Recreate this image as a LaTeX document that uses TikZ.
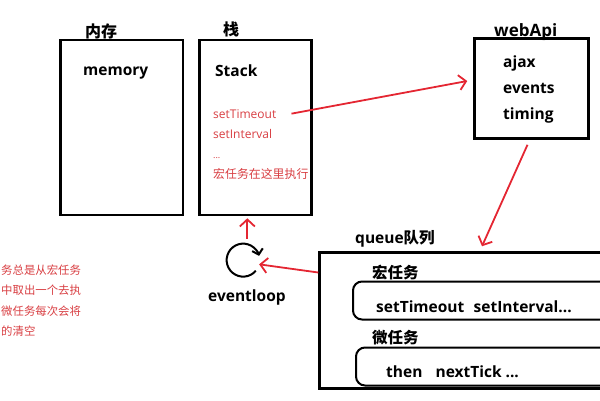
\documentclass[tikz,border=0pt]{standalone}
\usepackage{fontspec}
\setmainfont{Open Sans}
\newfontfamily\cjk{Noto Sans CJK SC}
\usetikzlibrary{arrows.meta}
\definecolor{pen}{RGB}{228,38,50}
\definecolor{ink}{RGB}{216,62,66}

\begin{document}
\begin{tikzpicture}[x=1pt, y=-1pt]
\tikzstyle{every node}=[inner sep=0pt];
\tikzstyle{box}=[draw, line width=2.5pt];
\tikzstyle{lane}=[draw, line width=2pt, rounded corners=9pt];
\tikzstyle{head}=[font=\bfseries\fontsize{15.5}{18}\selectfont, anchor=base west];
\tikzstyle{zh}=[font=\cjk\bfseries\fontsize{15.5}{18}\selectfont, anchor=base west];
\tikzstyle{note}=[text=ink, font=\fontsize{12}{14}\selectfont, anchor=base west];
\tikzstyle{link}=[draw=pen, line width=1.8pt, -{Straight Barb[length=7pt,width=15pt]}];
\clip (0,0) rectangle (600,400);

% boxes
\node[box, minimum width=122.5pt, minimum height=175pt] (mem) at (121.75,127.5) {};
\node[box, minimum width=112pt, minimum height=175pt] (stack) at (255.5,127.5) {};
\node[box, minimum width=114pt, minimum height=100pt] (webapi) at (531.5,88.5) {};
\node[box, minimum width=321pt, minimum height=136pt] (queue) at (480,320.5) {};
\node[lane, minimum width=300pt, minimum height=38pt] (macro) at (503,300.5) {};
\node[lane, minimum width=300pt, minimum height=38pt] (micro) at (506,366.5) {};
\node[circle, minimum size=33pt] (loop) at (243,260) {};

% titles
\node[zh, font=\cjk\bfseries\fontsize{16}{18}\selectfont] (memtitle) at (85,37) {内存};
\node[zh, font=\cjk\bfseries\fontsize{16}{18}\selectfont] (stacktitle) at (223,35) {栈};
\node[head, font=\bfseries\fontsize{17}{18}\selectfont] (apititle) at (494,36) {webApi};
\node[head] (memtext) at (83,75) {memory};
\node[head] (stacktext) at (215,76) {Stack};
\node[head] (ajax) at (503,67) {ajax};
\node[head] (events) at (503,93) {events};
\node[head] (timing) at (503,119) {timing};
\node[head] (queuetitle) at (355,243) {queue{\cjk 队列}};
\node[zh] (macrotitle) at (372,278) {宏任务};
\node[head] (macrotext) at (376,312) {setTimeout\hspace{0.6em}setInterval...};
\node[zh] (microtitle) at (372,343) {微任务};
\node[head] (microtext) at (386,377) {then\hspace{0.85em}nextTick ...};
\node[head] (looptext) at (208,301) {eventloop};

% red notes
\node[note] (tmo) at (213,118) {setTimeout};
\node[note] (itv) at (213,138) {setInterval};
\node[note, font=\fontsize{9}{10}\selectfont] (dots) at (213,158) {...};
\node[note, font=\cjk\fontsize{11.9}{14}\selectfont] (runhere) at (213,178) {宏任务在这里执行};
\node[note, font=\cjk\fontsize{11.4}{14}\selectfont] (rule1) at (1,274) {务总是从宏任务};
\node[note, font=\cjk\fontsize{11.4}{14}\selectfont] (rule2) at (1,294) {中取出一个去执};
\node[note, font=\cjk\fontsize{11.4}{14}\selectfont] (rule3) at (1,315) {微任务每次会将};
\node[note, font=\cjk\fontsize{11.4}{14}\selectfont] (rule4) at (1,335) {的清空};

% connectors
\draw[line width=2pt, -{Straight Barb[length=5pt,width=11pt]}] (loop.-40) arc[start angle=-40, end angle=-345, radius=16.5pt];
\draw[link] ([xshift=15pt]tmo.east) -- ([xshift=-6pt,yshift=7.5pt]webapi.west);
\draw[link] ([xshift=-4pt,yshift=-5pt]webapi.south) -- ([xshift=2pt,yshift=5pt]queue.north);
\draw[link] ([yshift=48pt]queue.west) -- (loop.-15);
\draw[link, shorten <=5pt, shorten >=2pt] (loop.75) -- (loop.75 |- stack.south);
\end{tikzpicture}
\end{document}
